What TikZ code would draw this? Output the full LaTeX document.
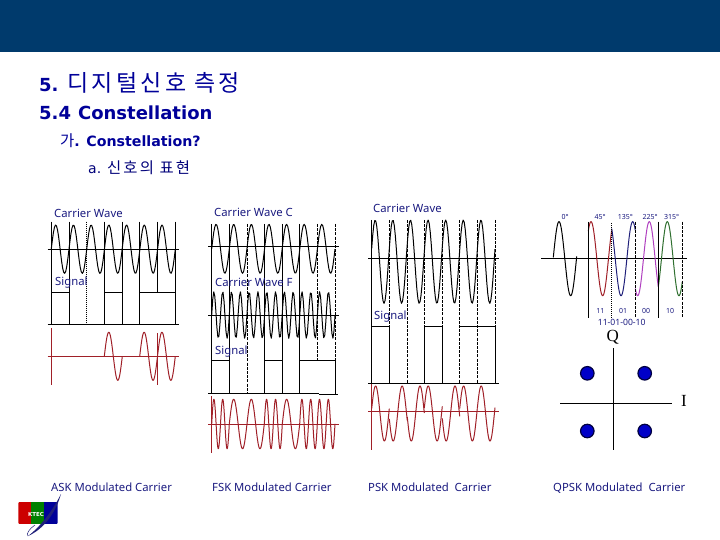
\documentclass[tikz,border=0pt]{standalone}
\usepackage{fontspec}
\setmainfont{Noto Sans}
\newfontfamily\vb{DejaVu Sans}
\newfontfamily\kr[LetterSpace=14]{Noto Sans CJK KR}
\newfontfamily\qf{Liberation Serif}
\definecolor{band}{HTML}{003A6C}
\definecolor{lbl}{HTML}{1A1A80}
\definecolor{head}{HTML}{000099}
\definecolor{redw}{HTML}{A02028}
\definecolor{bluew}{HTML}{20207A}
\definecolor{magw}{HTML}{B040C0}
\definecolor{grnw}{HTML}{307030}
\definecolor{dotb}{HTML}{0000C8}
\newcommand\wave[7][black]{\draw[wv,#1] plot[domain=#2:#3,samples=121] (\x,{#6-#7*cos(((\x-(#5))/(#4))*360)});}
\tikzset{
 x=1pt,y=-1pt,
 wv/.style={line width=1pt,line join=round},
 ln/.style={line width=1pt,black},
 dl/.style={line width=.9pt,black,dash pattern=on 3pt off 1.2pt},
 dt/.style={line width=.9pt,black,dash pattern=on 1pt off 1pt},
 rl/.style={line width=1pt,redw},
 lab/.style={anchor=base west,text=lbl,inner sep=0pt,font=\fontsize{11.3}{13}\selectfont},
 small/.style={text=lbl,inner sep=0pt,font=\fontsize{7}{9}\selectfont},
 blob/.style={circle,minimum size=13.5pt,inner sep=0pt,fill=dotb,draw=black!75!blue,line width=1.2pt},
}
\begin{document}
\begin{tikzpicture}
\useasboundingbox (0,0) rectangle (720,540);
\fill[white] (0,0) rectangle (720,540);
\fill[band] (0,0) rectangle (720,52);
% headings
\node[anchor=west,text=head,inner sep=0pt] (h1) at (39,83) {\vb\bfseries\fontsize{18}{20}\selectfont 5.\kern9pt{\kr\mdseries\fontsize{23}{24}\selectfont 디지털신호 측정}};
\node[anchor=west,text=head,inner sep=0pt] (h2) at (39,113) {\vb\bfseries\fontsize{18}{20}\selectfont 5.4\kern7pt Constellation};
\node[anchor=west,text=head,inner sep=0pt] (h3) at (60,141) {{\kr\mdseries\fontsize{15.5}{18}\selectfont 가}\vb\bfseries\fontsize{14.2}{18}\selectfont. Constellation?};
\node[anchor=west,text=head!80!black,inner sep=0pt] (h4) at (88,168) {\vb\fontsize{14}{18}\selectfont a. {\kr\fontsize{15.4}{18}\selectfont 신호의 표현}};
% ---------- ASK
\foreach \px in {51.3,69.3,104.3,122.3,139.7} \draw[ln] (\px,221.7) -- (\px,324.3);
\draw[ln] (175.3,221.7) -- (175.3,324.3);
\draw[ln] (157.3,221.7) -- (157.3,292.7);
\draw[dt] (86.7,221.7) -- (86.7,324.3);
\draw[ln] (47.7,249.3) -- (178.7,249.3);
\draw[ln] (47.7,324.3) -- (178.7,324.3);
\draw[ln] (51.3,292.7) -- (69.3,292.7) (104.3,292.7) -- (122.3,292.7) (139.7,292.7) -- (175.3,292.7);
\wave{51.3}{175.3}{17.72}{55.7}{249.2}{24.2}
\draw[rl] (47.7,356) -- (178.7,356);
\draw[rl] (51.3,328) -- (51.3,385);
\draw[rl] (157.3,333) -- (157.3,385);
\wave[redw]{104.3}{122.3}{18}{108.8}{356.3}{24}
\wave[redw]{139.7}{175.3}{17.8}{144.15}{356.3}{24}
% ---------- FSK
\foreach \px in {211.7,229.3,264.3,282.3,299.7} \draw[ln] (\px,224) -- (\px,393.7);
\draw[dl] (247,224) -- (247,393.7);
\draw[dl] (317.3,224) -- (317.3,360.3);
\draw[dl] (335,224) -- (335,360.3);
\draw[ln] (335,360.3) -- (335,393.7);
\draw[ln] (208,246.7) -- (338.7,246.7);
\draw[ln] (208,315.3) -- (338.7,315.3);
\draw[ln] (208,393.7) -- (319,393.7) (319,394.5) -- (338,394.5);
\draw[ln] (211.7,360.3) -- (229.3,360.3) (264.3,360.3) -- (282.3,360.3) (299.7,360.3) -- (335,360.3);
\wave{211.7}{335}{17.62}{216.1}{248.8}{24.5}
\wave{211.7}{335}{8.81}{213.9}{315}{23.3}
\draw[rl] (208,424.3) -- (338.7,424.3);
\draw[rl] (211.7,396) -- (211.7,453);
\wave[redw]{211.7}{229.3}{8.8}{213.9}{424}{24.7}
\wave[redw]{229.3}{247}{17.7}{233.7}{424}{24.7}
\wave[redw]{247}{264.3}{17.3}{251.3}{424}{24.7}
\wave[redw]{264.3}{282.3}{9}{266.55}{424}{24.7}
\wave[redw]{282.3}{299.7}{17.4}{286.65}{424}{24.7}
\wave[redw]{299.7}{317.3}{8.8}{301.9}{424}{24.7}
\wave[redw]{317.3}{335}{8.85}{319.5}{424}{24.7}
% ---------- PSK
\draw[ln] (371.7,220) -- (371.7,383.3);
\foreach \px in {389.3,424.3,442.3,495} {
  \draw[dl] (\px,220) -- (\px,326.3);
  \draw[ln] (\px,326.3) -- (\px,383.3);
}
\foreach \px in {407.3,459.7,477.3} \draw[dl] (\px,220) -- (\px,383.3);
\draw[ln] (368,258.3) -- (498.7,258.3);
\draw[ln] (368,383.3) -- (498.7,383.3);
\draw[ln] (371.7,326.3) -- (389.3,326.3) (424.3,326.3) -- (442.3,326.3) (459.7,326.3) -- (495,326.3);
\wave{371.7}{495}{17.62}{375.2}{261.7}{41.7}
\draw[rl] (368,411.3) -- (498.7,411.3);
\draw[rl] (371.7,384) -- (371.7,450);
\wave[redw]{371.7}{389.3}{17.6}{375.6}{413.5}{27.5}
\wave[redw]{389.3}{407.3}{17.8}{402.1}{413.5}{27.5}
\wave[redw]{407.3}{424.3}{17.4}{420}{413.5}{27.5}
\wave[redw]{424.3}{442.3}{17.8}{428.2}{413.5}{27.5}
\wave[redw]{442.3}{459.7}{17.6}{455}{413.5}{27.5}
\wave[redw]{459.7}{477.3}{17.6}{463.6}{413.5}{27.5}
\wave[redw]{477.3}{495}{17.6}{481.2}{413.5}{27.5}
% ---------- QPSK waves
\draw[ln] (541,258) -- (686.7,258);
\wave{553.3}{576.7}{23.3}{559}{258.7}{37}
\wave[redw]{588.3}{611.7}{23.3}{591}{258.7}{37}
\wave[bluew]{611.7}{635.3}{23.3}{632.7}{258.7}{37}
\wave[magw]{635.3}{658.3}{23.3}{649.3}{258.7}{37}
\wave[grnw]{658.3}{682.3}{23.3}{667.3}{258.7}{37}
\draw[ln] (588.3,221.7) -- (588.3,317.7);
\draw[dt] (611.7,223) -- (611.7,317.7);
\draw[dl] (635.3,221.7) -- (635.3,317.7);
\draw[ln] (658.3,221.7) -- (658.3,317.7);
\draw[dl] (682.3,221.7) -- (682.3,317.7);
\foreach \px/\tx/\nm in {565/0°/a,600/45°/b,625.3/135°/c,650/225°/d,671.7/315°/e}
  \node[small] (deg\nm) at (\px,216.7) {\tx};
\foreach \px/\tx/\nm in {600.3/11/a,623/01/b,646/00/c,670/10/d}
  \node[small] (bit\nm) at (\px,310.7) {\tx};
\node[small,font=\fontsize{8.6}{10}\selectfont] (seq) at (621.7,322.3) {11-01-00-10};
% ---------- constellation
\draw[line width=1.4pt,black] (613.7,348.3) -- (613.7,450);
\draw[line width=1.4pt,black] (560,403.7) -- (671.7,403.7);
\node[blob] (p1) at (587.3,373.3) {};
\node[blob] (p2) at (644.7,373.3) {};
\node[blob] (p3) at (587.3,431) {};
\node[blob] (p4) at (644.7,431) {};
\node[inner sep=0pt,font=\qf\fontsize{17}{20}\selectfont] (Q) at (612.7,337) {Q};
\node[inner sep=0pt,font=\qf\fontsize{17}{20}\selectfont] (I) at (684,401) {I};
% ---------- labels
\node[lab] (l1) at (54,218) {Carrier Wave};
\node[lab] (l2) at (214,216) {Carrier Wave C};
\node[lab] (l3) at (373,213) {Carrier Wave};
\node[lab] (l4) at (55,285) {Signal};
\node[lab] (l5) at (215,286) {Carrier Wave F};
\node[lab] (l6) at (374,319) {Signal};
\node[lab] (l7) at (215,354) {Signal};
\node[lab] (b1) at (51,491) {ASK Modulated Carrier};
\node[lab] (b2) at (212,491) {FSK Modulated Carrier};
\node[lab] (b3) at (368,491) {PSK Modulated\ \ Carrier};
\node[lab] (b4) at (553,491) {QPSK Modulated\ \ Carrier};
% ---------- logo
\begin{scope}
\clip[rounded corners=2pt] (18.3,501.7) rectangle (57.7,524.3);
\fill[red!80!black] (18.3,501.7) rectangle (31,524.3);
\fill[green!50!black] (31,501.7) rectangle (44.3,524.3);
\fill[blue!60!black] (44.3,501.7) rectangle (57.7,524.3);
\end{scope}
\node[text=white,inner sep=0pt,font=\vb\bfseries\fontsize{5.5}{7}\selectfont] (ktec) at (36,514) {KTEC};
\fill[bluew] (61,494) .. controls (55,515) and (42,530) .. (28,536) .. controls (39,528) and (52,512) .. (61,494);
\draw[bluew,line width=.5pt] (28,536) .. controls (26,534) and (29,529) .. (35,525);
\end{tikzpicture}
\end{document}
